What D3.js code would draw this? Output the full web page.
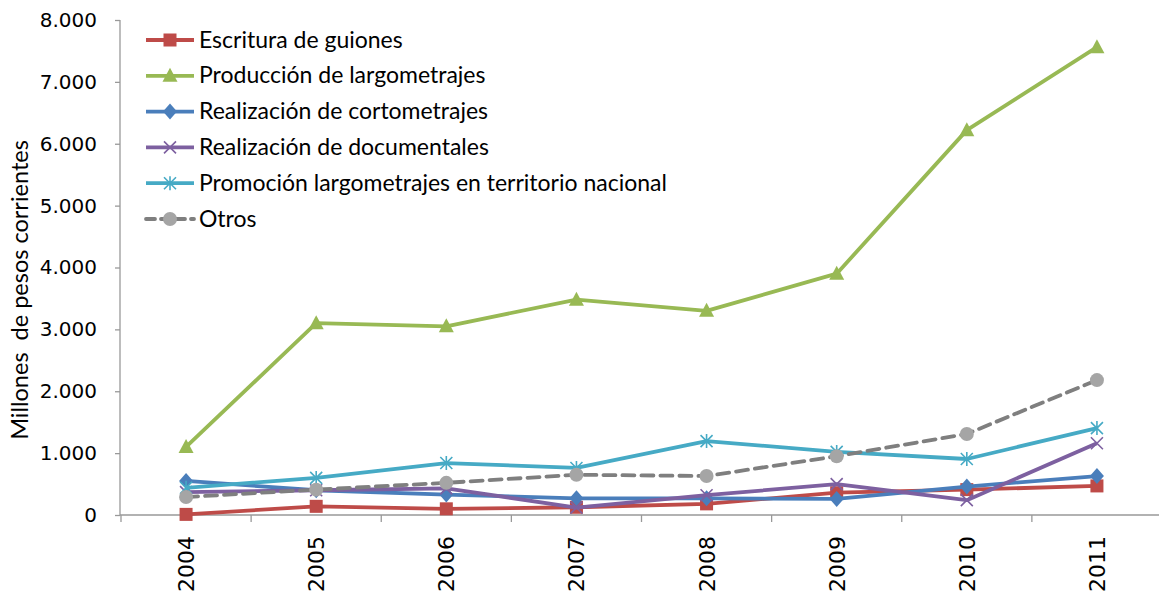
<!DOCTYPE html>
<html><head><meta charset="utf-8">
<script src="https://cdn.jsdelivr.net/npm/d3@7"></script>
<style>body{margin:0;background:#fff}svg{display:block}</style>
</head><body>
<svg id="c" width="1159" height="593"></svg>
<script>
const years = ["2004","2005","2006","2007","2008","2009","2010","2011"];
const yTicks = [0,1000,2000,3000,4000,5000,6000,7000,8000];
const seriesNames = ["Escritura de guiones","Producción de largometrajes","Realización de cortometrajes","Realización de documentales","Promoción largometrajes en territorio nacional","Otros"];
const escritura    = [10, 140, 100, 125, 180, 360, 410, 470];
const produccion   = [1100, 3100, 3050, 3480, 3300, 3900, 6220, 7560];
const cortometrajes= [550, 400, 330, 270, 270, 260, 460, 630];
const documentales = [370, 400, 430, 120, 320, 500, 240, 1160];
const promocion    = [440, 600, 840, 760, 1195, 1020, 905, 1405];
const otros        = [290, 410, 520, 650, 630, 950, 1310, 2180];
const allValues = [escritura, produccion, cortometrajes, documentales, promocion, otros];
const colors = ["#BE4B48","#98B954","#4A7EBB","#7D60A0","#46AAC5","#7F7F7F"];
const markers = ["square","triangle","diamond","x","asterisk","circle"];

const svg = d3.select("#c");
const x = d3.scaleBand().domain(years).range([121,1162]);
const y = d3.scaleLinear().domain([0,8000]).range([515,20]);
const cx = d => x(d) + x.bandwidth()/2;

// y axis
const yAxis = d3.axisLeft(y).tickValues(yTicks).tickSize(5).tickPadding(18)
  .tickFormat(d => d3.format(",")(d).replace(/,/g,"."));
const ga = svg.append("g").attr("transform","translate(120,0)").call(yAxis);
ga.select(".domain").attr("stroke","#999").attr("stroke-width",1.3).attr("d","M0,20V515");
ga.selectAll(".tick line").attr("stroke","#999").attr("stroke-width",1.3);
ga.selectAll("text").attr("font-family","DejaVu Sans").attr("font-size",20).attr("fill","#000");

// x axis
const xAxisG = svg.append("g").attr("transform","translate(0,515)");
xAxisG.append("line").attr("x1",120).attr("x2",1159).attr("y1",0).attr("y2",0).attr("stroke","#999").attr("stroke-width",1.3);
const bounds = years.map(d => x(d)).concat([x(years[years.length-1]) + x.bandwidth()]);
xAxisG.selectAll("line.tk").data(bounds).enter().append("line").attr("class","tk")
  .attr("x1",d=>d).attr("x2",d=>d).attr("y1",0).attr("y2",7).attr("stroke","#999").attr("stroke-width",1.3);
xAxisG.selectAll("text").data(years).enter().append("text")
  .attr("transform", d => `translate(${cx(d)+8},21) rotate(-90)`)
  .attr("text-anchor","end").attr("font-family","DejaVu Sans").attr("font-size",22).attr("fill","#000")
  .text(d=>d);

// y title
svg.append("text").attr("transform","translate(28,290) rotate(-90)").attr("text-anchor","middle")
  .attr("font-family","Lato").attr("font-size",23.5).attr("fill","#000").attr("xml:space","preserve")
  .text("Millones  de pesos corrientes");

function drawMarker(g, type, color, px, py){
  if(type==="square"){
    g.append("rect").attr("x",px-6.5).attr("y",py-6.5).attr("width",13).attr("height",13).attr("fill",color);
  } else if(type==="triangle"){
    g.append("path").attr("d",`M${px},${py-8}L${px+7.5},${py+6}L${px-7.5},${py+6}Z`).attr("fill",color);
  } else if(type==="diamond"){
    g.append("path").attr("d",`M${px},${py-8}L${px+7},${py}L${px},${py+8}L${px-7},${py}Z`).attr("fill",color);
  } else if(type==="x"){
    const s=6;
    g.append("path").attr("d",`M${px-s},${py-s}L${px+s},${py+s}M${px-s},${py+s}L${px+s},${py-s}`).attr("stroke",color).attr("stroke-width",1.6).attr("fill","none");
  } else if(type==="asterisk"){
    const s=6;
    g.append("path").attr("d",`M${px-s},${py-s}L${px+s},${py+s}M${px-s},${py+s}L${px+s},${py-s}M${px},${py-s-1}L${px},${py+s+1}`).attr("stroke",color).attr("stroke-width",1.6).attr("fill","none");
  } else if(type==="circle"){
    g.append("circle").attr("cx",px).attr("cy",py).attr("r",7).attr("fill","#A5A5A5");
  }
}

const line = d3.line().x((d,i)=>cx(years[i])).y(d=>y(d));
allValues.forEach((vals, si) => {
  const g = svg.append("g");
  g.append("path").datum(vals).attr("d", line).attr("fill","none").attr("stroke", colors[si])
    .attr("stroke-width",3.8).attr("stroke-linejoin","round")
    .attr("stroke-dasharray", si===5 ? "12,7" : null).attr("stroke-linecap", si===5 ? "round" : "butt");
  vals.forEach((v,i)=> drawMarker(g, markers[si], colors[si], cx(years[i]), y(v)));
});

// legend
const lg = svg.append("g");
seriesNames.forEach((name, i) => {
  const yy = 40 + i*35.8;
  const g = lg.append("g");
  g.append("line").attr("x1",146).attr("x2",194).attr("y1",yy).attr("y2",yy).attr("stroke",colors[i]).attr("stroke-width",3.8)
    .attr("stroke-dasharray", i===5 ? "9,6" : null).attr("stroke-linecap", i===5 ? "round":"butt");
  drawMarker(g, markers[i], colors[i], 170, yy);
  g.append("text").attr("x",199).attr("y",yy+7.5).attr("font-family","Lato").attr("font-size",23).attr("fill","#000").text(name);
});
</script>
</body></html>
